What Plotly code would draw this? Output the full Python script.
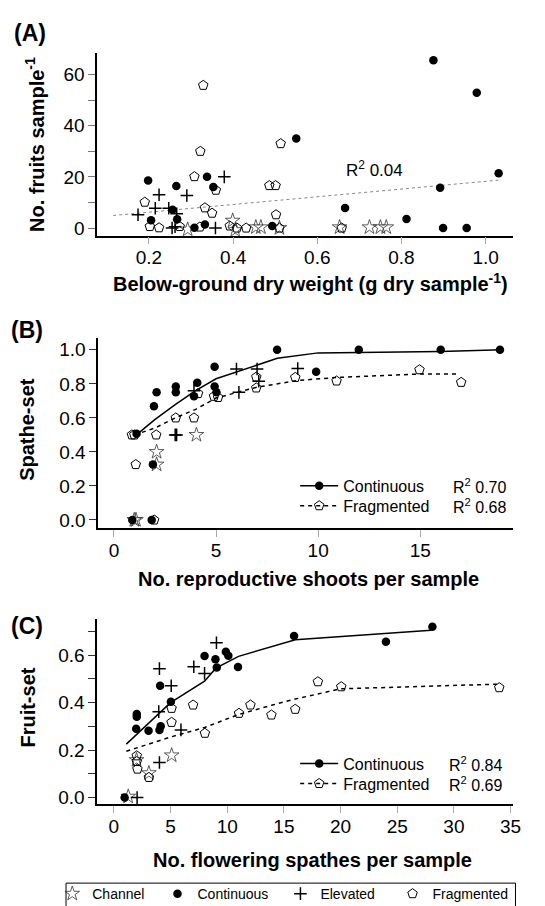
import plotly.graph_objects as go

W, H = 545, 906

# ---------------- Panel A data ----------------
a_cont_x = [0.198, 0.205, 0.265, 0.256, 0.267, 0.308, 0.333, 0.338, 0.353, 0.493, 0.55, 0.666, 0.812, 0.876, 0.892, 0.899, 0.955, 0.979, 1.031]
a_cont_y = [18.6, 3.0, 16.4, 7.1, 3.4, 0.1, 1.4, 20.0, 16.0, 0.8, 35.0, 7.8, 3.5, 65.6, 15.7, 0.0, 0.0, 52.9, 21.4]
a_elev_x = [0.174, 0.215, 0.224, 0.29, 0.379, 0.247, 0.266, 0.255, 0.262, 0.358]
a_elev_y = [5.2, 7.7, 13.0, 12.7, 20.0, 7.7, 5.6, 0.0, 0.5, 0.0]
a_frag_x = [0.19, 0.202, 0.224, 0.308, 0.322, 0.329, 0.333, 0.35, 0.359, 0.321, 0.273, 0.392, 0.431, 0.486, 0.501, 0.502, 0.513, 0.51, 0.658, 0.409]
a_frag_y = [10.1, 0.6, 0.1, 20.1, 30.0, 55.8, 7.9, 5.8, 14.8, 0.4, 0.6, 0.8, 0.0, 16.6, 16.6, 5.2, 33.0, 0.0, 0.0, 0.0]
a_chan_x = [0.292, 0.399, 0.405, 0.454, 0.466, 0.51, 0.653, 0.724, 0.75, 0.764]
a_chan_y = [-0.6, 2.9, -0.8, 0.3, 0.3, 0.0, 0.3, 0.3, 0.3, 0.3]
a_fit_x = [0.115, 1.03]
a_fit_y = [4.9, 18.7]
a_r2 = "R<sup>2</sup> 0.04"

# ---------------- Panel B data ----------------
b_cont_x = [1.11, 0.9, 1.85, 1.91, 1.96, 2.09, 3.03, 3.03, 3.92, 4.08, 4.93, 4.93, 5.02, 7.99, 9.9, 11.99, 16.0, 18.9]
b_cont_y = [0.507, 0.0, 0.0, 0.326, 0.669, 0.75, 0.785, 0.75, 0.727, 0.807, 0.9, 0.785, 0.75, 1.0, 0.871, 1.0, 1.0, 1.0]
b_elev_x = [6.0, 7.01, 7.09, 9.0, 6.12, 3.0, 3.07, 3.92]
b_elev_y = [0.887, 0.887, 0.815, 0.89, 0.75, 0.5, 0.5, 0.76]
b_frag_x = [0.88, 1.0, 1.07, 2.07, 1.97, 3.03, 3.92, 4.12, 4.9, 5.1, 6.97, 6.97, 8.88, 10.9, 14.96, 17.0]
b_frag_y = [0.5, 0.5, 0.326, 0.5, 0.0, 0.6, 0.6, 0.743, 0.727, 0.72, 0.84, 0.776, 0.838, 0.817, 0.883, 0.809]
b_chan_x = [1.08, 1.0, 2.09, 2.09, 4.04]
b_chan_y = [0.0, 0.0, 0.4, 0.326, 0.5]
b_cont_fit_x = [1.1, 2, 3, 4, 5, 8, 10, 12, 16, 19]
b_cont_fit_y = [0.50, 0.59, 0.678, 0.76, 0.83, 0.95, 0.982, 0.985, 0.99, 1.0]
b_frag_fit_x = [1.0, 2, 3, 4, 5, 6, 7, 9, 11, 15, 16.8]
b_frag_fit_y = [0.5, 0.54, 0.6, 0.65, 0.717, 0.75, 0.78, 0.82, 0.838, 0.858, 0.858]
b_r2 = ["R<sup>2</sup> 0.70", "R<sup>2</sup> 0.68"]

# ---------------- Panel C data ----------------
c_cont_x = [0.95, 2.02, 2.02, 1.97, 3.06, 4.02, 4.13, 4.08, 5.03, 8.0, 8.96, 9.08, 9.88, 10.1, 10.95, 15.9, 24.0, 28.1]
c_cont_y = [0.0, 0.352, 0.34, 0.29, 0.281, 0.285, 0.30, 0.471, 0.404, 0.596, 0.583, 0.548, 0.614, 0.597, 0.55, 0.681, 0.656, 0.72]
c_elev_x = [2.05, 4.02, 5.06, 3.96, 4.02, 5.92, 7.05, 8.0, 9.05]
c_elev_y = [0.0, 0.543, 0.471, 0.362, 0.148, 0.285, 0.551, 0.523, 0.652]
c_frag_x = [2.02, 2.02, 2.08, 3.09, 5.09, 5.09, 6.99, 8.03, 11.04, 12.05, 13.9, 16.0, 18.0, 20.06, 34.0]
c_frag_y = [0.176, 0.152, 0.12, 0.085, 0.376, 0.317, 0.39, 0.271, 0.355, 0.39, 0.348, 0.372, 0.488, 0.467, 0.463]
c_chan_x = [1.27, 2.0, 3.09, 5.1]
c_chan_y = [0.004, 0.158, 0.103, 0.178]
c_cont_fit_x = [1.1, 5, 8, 9, 11, 16, 28]
c_cont_fit_y = [0.225, 0.40, 0.49, 0.545, 0.595, 0.665, 0.705]
c_frag_fit_x = [1.1, 5, 8, 11, 14, 16, 20, 34]
c_frag_fit_y = [0.195, 0.255, 0.295, 0.35, 0.39, 0.415, 0.458, 0.478]
c_r2 = ["R<sup>2</sup> 0.84", "R<sup>2</sup> 0.69"]

# tick labels
a_yvals = [0, 10, 20, 30, 40, 50, 60]
a_ytext = ["0", "", "20", "", "40", "", "60"]
a_xvals = [0.2, 0.4, 0.6, 0.8, 1.0]
a_xtext = ["0.2", "0.4", "0.6", "0.8", "1.0"]
b_yvals = [0.0, 0.2, 0.4, 0.6, 0.8, 1.0]
b_ytext = ["0.0", "0.2", "0.4", "0.6", "0.8", "1.0"]
b_xvals = [0, 5, 10, 15]
c_yvals = [0.0, 0.1, 0.2, 0.3, 0.4, 0.5, 0.6, 0.7]
c_ytext = ["0.0", "", "0.2", "", "0.4", "", "0.6", ""]
c_xvals = [0, 5, 10, 15, 20, 25, 30, 35]

site_names = ["Channel", "Continuous", "Elevated", "Fragmented"]

FONT = "Liberation Sans, Arial, sans-serif"
DASH = "4px,4px"

CONT = dict(symbol="circle", size=8.5, color="black", line=dict(width=0))
FRAG = dict(symbol="pentagon-open", size=10, color="black", line=dict(width=1, color="black"))
ELEV = dict(symbol="cross-thin-open", size=9, color="black", line=dict(width=1.5, color="black"))
CHAN = dict(symbol="star-open", size=11, color="#333", line=dict(width=0.8, color="#333"))
site_markers = [CHAN, CONT, ELEV, FRAG]

fig = go.Figure()

def pts(x, y, marker, xa, ya):
    fig.add_trace(go.Scatter(x=x, y=y, mode="markers", marker=marker, xaxis=xa, yaxis=ya,
                             showlegend=False, hoverinfo="skip"))

def line(x, y, dash, color, width, xa, ya):
    fig.add_trace(go.Scatter(x=x, y=y, mode="lines", line=dict(dash=dash, color=color, width=width),
                             xaxis=xa, yaxis=ya, showlegend=False, hoverinfo="skip"))

# Panel A
line(a_fit_x, a_fit_y, "dot", "#888", 1, "x", "y")
pts(a_chan_x, a_chan_y, CHAN, "x", "y")
pts(a_cont_x, a_cont_y, CONT, "x", "y")
pts(a_elev_x, a_elev_y, ELEV, "x", "y")
pts(a_frag_x, a_frag_y, FRAG, "x", "y")

# Panel B
line(b_cont_fit_x, b_cont_fit_y, "solid", "black", 1.5, "x2", "y2")
line(b_frag_fit_x, b_frag_fit_y, DASH, "black", 1.5, "x2", "y2")
pts(b_chan_x, b_chan_y, CHAN, "x2", "y2")
pts(b_cont_x, b_cont_y, CONT, "x2", "y2")
pts(b_elev_x, b_elev_y, ELEV, "x2", "y2")
pts(b_frag_x, b_frag_y, FRAG, "x2", "y2")

# Panel C
line(c_cont_fit_x, c_cont_fit_y, "solid", "black", 1.5, "x3", "y3")
line(c_frag_fit_x, c_frag_fit_y, DASH, "black", 1.5, "x3", "y3")
pts(c_chan_x, c_chan_y, CHAN, "x3", "y3")
pts(c_cont_x, c_cont_y, CONT, "x3", "y3")
pts(c_elev_x, c_elev_y, ELEV, "x3", "y3")
pts(c_frag_x, c_frag_y, FRAG, "x3", "y3")

# Legend entries for B and C (fit lines), one legend per row
for lg, xa, ya in [("legend2", "x2", "y2"), ("legend4", "x3", "y3")]:
    fig.add_trace(go.Scatter(x=[None], y=[None], mode="lines+markers", name="Continuous",
                             line=dict(color="black", width=1.5), marker=CONT,
                             xaxis=xa, yaxis=ya, legend=lg))
for lg, xa, ya in [("legend3", "x2", "y2"), ("legend5", "x3", "y3")]:
    fig.add_trace(go.Scatter(x=[None], y=[None], mode="lines+markers", name="Fragmented",
                             line=dict(color="black", width=1.5, dash=DASH), marker=FRAG,
                             xaxis=xa, yaxis=ya, legend=lg))

# Bottom legend (site types), one legend per entry
bottom_legends = ["legend", "legend6", "legend7", "legend8"]
for name, mk, lg in zip(site_names, site_markers, bottom_legends):
    fig.add_trace(go.Scatter(x=[None], y=[None], mode="markers", name=name, marker=mk,
                             xaxis="x3", yaxis="y3", legend=lg))

def px_x(p):
    return p / W

def px_y(p):
    return 1 - p / H

def axis_common(**kw):
    d = dict(showline=True, linecolor="black", linewidth=1.5, ticks="outside", ticklen=7,
             showgrid=False, zeroline=False, tickfont=dict(family=FONT, size=19, color="black"),
             fixedrange=True)
    d.update(kw)
    return d

def row_legend(xp, yp, size=16, itemwidth=38):
    return dict(x=px_x(xp), xanchor="left", y=px_y(yp), yanchor="middle", bgcolor="rgba(0,0,0,0)",
                font=dict(family=FONT, size=size, color="black"), itemwidth=itemwidth,
                itemclick=False, itemdoubleclick=False)

layout = dict(
    width=W, height=H, margin=dict(l=0, r=0, t=0, b=0),
    paper_bgcolor="white", plot_bgcolor="white",
    font=dict(family=FONT, color="black"),
    hovermode=False,
    xaxis=axis_common(domain=[px_x(90.7), px_x(513)], range=[0.077, 1.064], anchor="y",
                      tickvals=a_xvals, ticktext=a_xtext, tickcolor="#aaa", ticklabelstandoff=-3),
    yaxis=axis_common(domain=[px_y(228.7), px_y(45)], range=[-3, 68.5], anchor="x",
                      tickvals=a_yvals, ticktext=a_ytext, tickcolor="#777"),
    xaxis2=axis_common(domain=[px_x(91.7), px_x(513.3)], range=[-0.77, 19.53], anchor="y2",
                       tickvals=b_xvals, tickcolor="#aaa", ticklabelstandoff=-3),
    yaxis2=axis_common(domain=[px_y(522.3), px_y(331.7)], range=[-0.047, 1.068], anchor="x2",
                       tickvals=b_yvals, ticktext=b_ytext, tickcolor="#333"),
    xaxis3=axis_common(domain=[px_x(90.7), px_x(513)], range=[-1.47, 35.17], anchor="y3",
                       tickvals=c_xvals, tickcolor="#aaa", ticklabelstandoff=-3),
    yaxis3=axis_common(domain=[px_y(800), px_y(614)], range=[-0.029, 0.751], anchor="x3",
                       tickvals=c_yvals, ticktext=c_ytext, tickcolor="#333"),
    legend=row_legend(45, 890, size=14, itemwidth=30),
    legend6=row_legend(152, 890, size=14, itemwidth=30),
    legend7=row_legend(277, 890, size=14, itemwidth=30),
    legend8=row_legend(391, 890, size=14, itemwidth=30),
    legend2=row_legend(292, 480),
    legend3=row_legend(292, 500),
    legend4=row_legend(292, 759),
    legend5=row_legend(292, 779),
    shapes=[dict(type="rect", xref="paper", yref="paper", x0=px_x(59), x1=px_x(516),
                 y0=px_y(905), y1=px_y(879), line=dict(color="black", width=1))],
)
fig.update_layout(**layout)

ann = []
def text(x, y, s, size, bold=False, angle=0, xanchor="center", xref="paper", yref="paper"):
    ann.append(dict(x=x, y=y, xref=xref, yref=yref, text=(f"<b>{s}</b>" if bold else s),
                    showarrow=False, textangle=angle, xanchor=xanchor, yanchor="middle",
                    font=dict(family=FONT, size=size, color="black")))

# Panel labels
text(px_x(4), px_y(25), "(A)", 23, bold=True, xanchor="left")
text(px_x(1), px_y(323), "(B)", 23, bold=True, xanchor="left")
text(px_x(1), px_y(621), "(C)", 23, bold=True, xanchor="left")

# Axis titles
text(px_x(27), px_y(137), "No. fruits sample<sup>-1</sup>", 20, bold=True, angle=-90)
text(px_x(308), px_y(276), "Below-ground dry weight (g dry sample<sup>-1</sup>)", 20, bold=True)
text(px_x(19), px_y(423), "Spathe-set", 20, bold=True, angle=-90)
text(px_x(306), px_y(574), "No. reproductive shoots per sample", 20, bold=True)
text(px_x(20), px_y(703), "Fruit-set", 20, bold=True, angle=-90)
text(px_x(310), px_y(856), "No. flowering spathes per sample", 20, bold=True)

# R2 labels
text(0.737, 23.2, a_r2, 17, xref="x", yref="y")
text(px_x(450), px_y(480), b_r2[0], 16, xanchor="left")
text(px_x(450), px_y(500), b_r2[1], 16, xanchor="left")
text(px_x(446), px_y(759), c_r2[0], 16, xanchor="left")
text(px_x(446), px_y(779), c_r2[1], 16, xanchor="left")

fig.update_layout(annotations=ann)
fig.write_html("out.html")
